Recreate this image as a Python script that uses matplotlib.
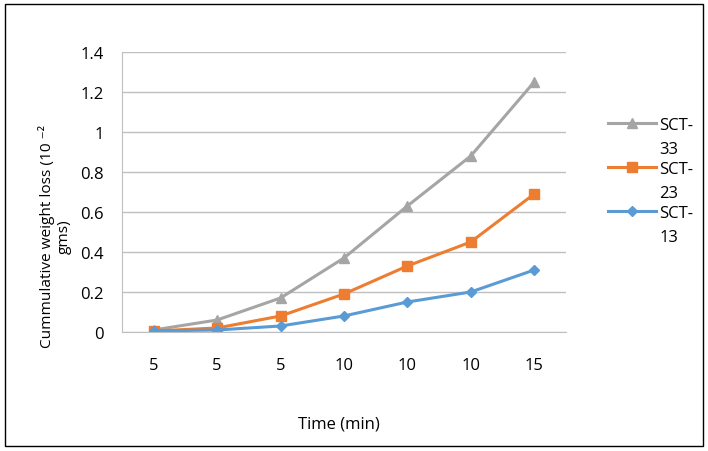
import numpy as np
import matplotlib.pyplot as plt
from matplotlib.patches import Rectangle

plt.rcParams['font.family'] = ['Open Sans', 'DejaVu Sans']

categorias = ["5", "5", "5", "10", "10", "10", "15"]
sct_33 = [0.01, 0.06, 0.17, 0.37, 0.63, 0.88, 1.25]
sct_23 = [0.005, 0.02, 0.08, 0.19, 0.33, 0.45, 0.69]
sct_13 = [0.005, 0.01, 0.03, 0.08, 0.15, 0.20, 0.31]
etiquetas = ["SCT-\n33", "SCT-\n23", "SCT-\n13"]
y_ticks = [0, 0.2, 0.4, 0.6, 0.8, 1, 1.2, 1.4]

fs = 12

fig = plt.figure(figsize=(7.08, 4.52), dpi=100)
ax = fig.add_axes([0.1723, 0.2633, 0.627, 0.6195])

x = np.arange(len(categorias))
ax.plot(x, sct_33, color='#A5A5A5', lw=2.2, marker='^', ms=7.5, label=etiquetas[0])
ax.plot(x, sct_23, color='#ED7D31', lw=2.2, marker='s', ms=7.5, label=etiquetas[1])
ax.plot(x, sct_13, color='#5B9BD5', lw=2.2, marker='D', ms=5.5, label=etiquetas[2])

ax.set_xlim(-0.5, len(categorias) - 0.5)
ax.set_ylim(0, 1.4)
ax.set_xticks(x)
ax.set_xticklabels(categorias)
ax.set_yticks(y_ticks)
ax.set_yticklabels([f"{v:g}" for v in y_ticks])
ax.tick_params(axis='x', length=0, pad=18, labelsize=fs)
ax.tick_params(axis='y', length=0, pad=13, labelsize=fs)
ax.grid(axis='y', color='#BFBFBF', lw=1)
ax.set_axisbelow(True)
for lado in ['top', 'right']:
    ax.spines[lado].set_visible(False)
ax.spines['left'].set_color('#BFBFBF')
ax.spines['bottom'].set_color('#BFBFBF')

ax.set_xlabel('Time (min)', fontsize=fs)
ax.xaxis.set_label_coords(0.489, -0.30)
ax.set_ylabel('Cummulative weight loss (10 \u207b\u00b2\ngms)', fontsize=11.1, linespacing=1.2)
ax.yaxis.set_label_coords(-0.113, 0.345)

leg = ax.legend(loc='center left', bbox_to_anchor=(1.06, 0.54), frameon=False,
                fontsize=fs, handlelength=2.9, handletextpad=0.2, labelspacing=0.24)
for t in leg.get_texts():
    t.set_linespacing(1.66)
# subir los marcadores de la leyenda a la primera línea de texto
for linea in leg.get_lines():
    linea.set_ydata(np.asarray(linea.get_ydata()) + 10)

fig.patches.append(Rectangle((0.007, 0.011), 0.986, 0.978, transform=fig.transFigure,
                             fill=False, edgecolor='black', lw=1))

plt.savefig('out.png')
